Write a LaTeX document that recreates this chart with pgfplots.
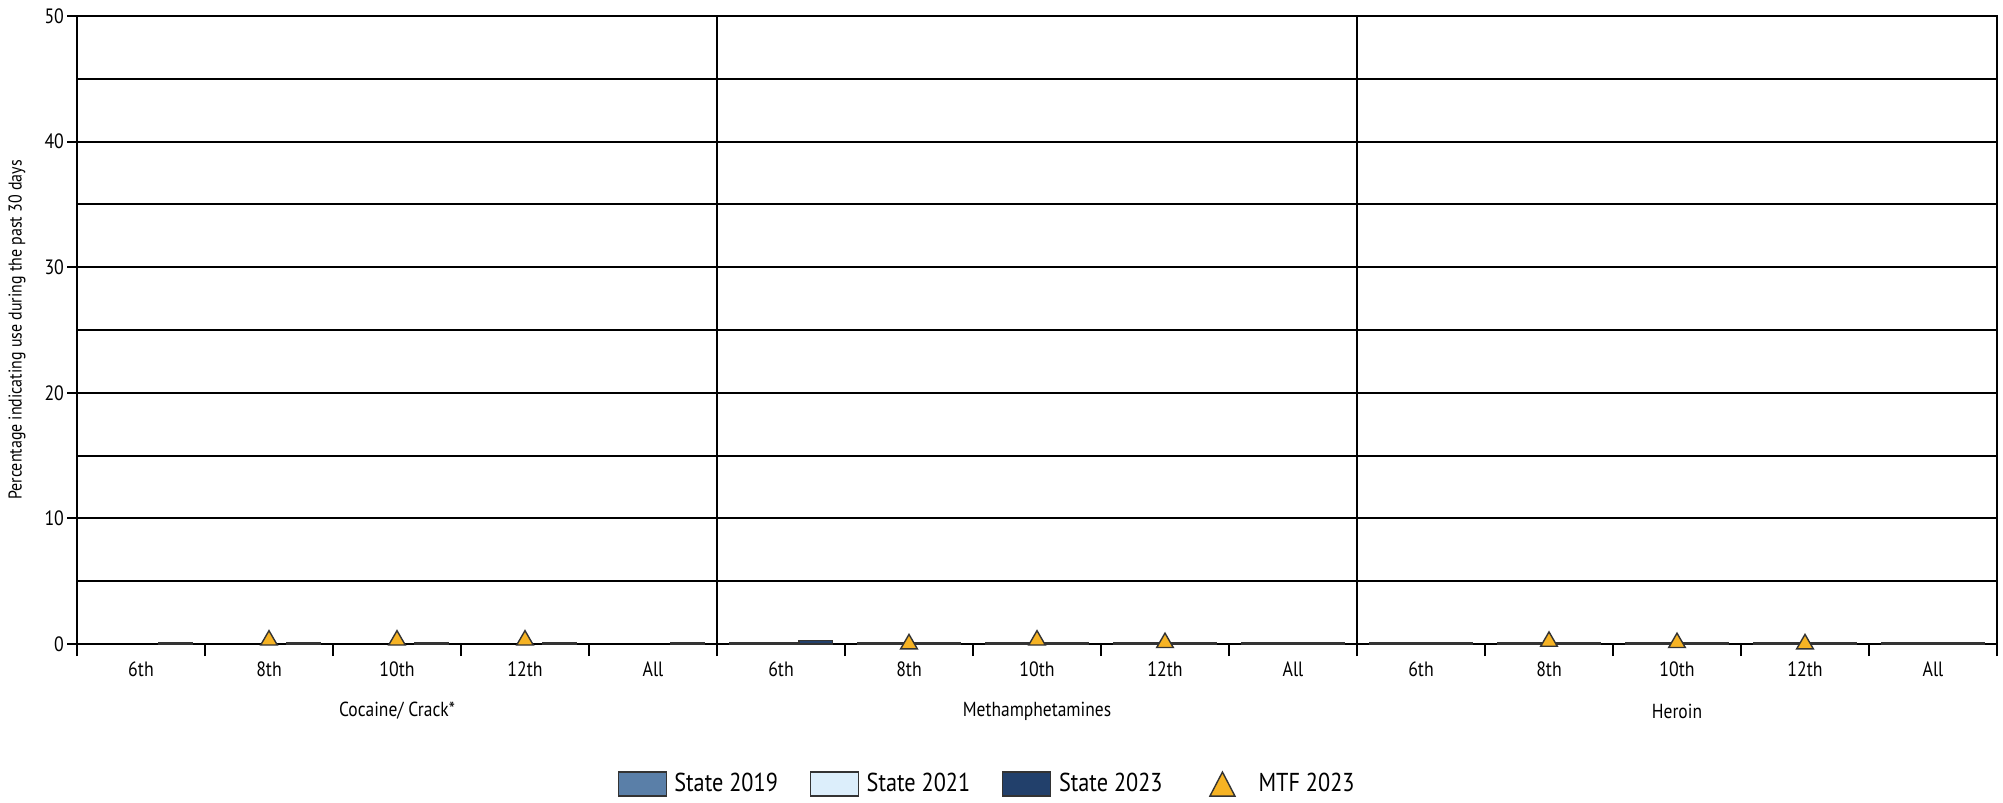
\documentclass[border=0pt]{standalone}
\usepackage{fontspec}
\setmainfont{PT Sans}[FakeStretch=0.86]
\usepackage{pgfplots}
\pgfplotsset{compat=1.18}
\definecolor{c19}{HTML}{5A7FA8}
\definecolor{c21}{HTML}{DCEEFB}
\definecolor{c23}{HTML}{22406B}
\definecolor{mtf}{HTML}{F6B324}
\definecolor{edge}{HTML}{333333}
\begin{document}
\begin{tikzpicture}
\useasboundingbox (-38.5bp,-79.5bp) rectangle (963bp,322bp);
\begin{axis}[
  at={(0,0)}, anchor=south west,
  scale only axis, width=960bp, height=314bp,
  xmin=0, xmax=15, ymin=0, ymax=50,
  axis line style={black, line width=1bp},
  tick pos=left,
  ytick={0,10,...,50}, minor ytick={5,15,...,45},
  ymajorgrids, yminorgrids,
  major grid style={black, line width=1bp},
  minor grid style={black, line width=1bp},
  tick align=outside, major tick length=5bp, minor tick length=0pt,
  tick style={black, line width=1bp},
  xtick={0.5,1.5,...,14.5},
  xticklabels={6th,8th,10th,12th,All,6th,8th,10th,12th,All,6th,8th,10th,12th,All},
  x tick style={draw=none},
  extra x ticks={0,1,...,15},
  extra x tick labels={},
  extra x tick style={major tick length=6bp, x tick style={draw=black, line width=1bp}, grid=none},
  ticklabel style={font=\fontsize{10.4}{12}\selectfont},
  xticklabel style={yshift=-0.5bp},
  yticklabel style={xshift=2bp},
  /pgf/number format/assume math mode=true,
  ylabel={Percentage indicating use during the past 30 days},
  ylabel style={at={(axis description cs:-0.03125,0.5)}, anchor=center, font=\fontsize{9.3}{10}\selectfont},
  legend style={at={(0.4745,-0.223)}, anchor=center, draw=none, legend columns=4,
    font=\fontsize{13}{15}\selectfont,
    /tikz/every odd column/.style={column sep=1.8bp},
    /tikz/every even column/.style={column sep=14bp}},
  clip=false,
]
% State 2019
\addplot[ybar, bar width=0.26, bar shift=-0.27, fill=c19, draw=edge, line width=0.6bp, forget plot]
 coordinates {(5.5,0.1) (6.5,0.1) (7.5,0.1) (8.5,0.1) (9.5,0.1)
              (10.5,0.1) (11.5,0.1) (12.5,0.1) (13.5,0.1) (14.5,0.1)};
% State 2021
\addplot[ybar, bar width=0.26, bar shift=0, fill=c21, draw=edge, line width=0.6bp, forget plot]
 coordinates {(5.5,0.1) (6.5,0.1) (7.5,0.1) (8.5,0.1) (9.5,0.1)
              (10.5,0.1) (11.5,0.1) (12.5,0.1) (13.5,0.1) (14.5,0.1)};
% State 2023
\addplot[ybar, bar width=0.26, bar shift=0.27, fill=c23, draw=edge, line width=0.6bp, forget plot]
 coordinates {(0.5,0.1) (1.5,0.1) (2.5,0.1) (3.5,0.1) (4.5,0.1)
              (5.5,0.3) (6.5,0.1) (7.5,0.1) (8.5,0.1) (9.5,0.1)
              (10.5,0.1) (11.5,0.1) (12.5,0.1) (13.5,0.1) (14.5,0.1)};
% MTF 2023
\addplot[only marks, mark=triangle*, mark size=4.8bp, mark options={fill=mtf, draw=edge, line width=0.7bp}, forget plot]
 coordinates {(1.5,0.3) (2.5,0.3) (3.5,0.3)
              (6.5,0.0) (7.5,0.3) (8.5,0.1)
              (11.5,0.2) (12.5,0.1) (13.5,0.0)};
\draw[black, line width=1bp] (axis cs:5,0) -- (axis cs:5,50);
\draw[black, line width=1bp] (axis cs:10,0) -- (axis cs:10,50);
\node[font=\fontsize{10.2}{12}\selectfont] at ([yshift=-33.5bp]axis cs:2.5,0) {Cocaine/ Crack*};
\node[font=\fontsize{10.2}{12}\selectfont] at ([yshift=-33.5bp]axis cs:7.5,0) {Methamphetamines};
\node[font=\fontsize{10.2}{12}\selectfont] at ([yshift=-33.5bp]axis cs:12.5,0) {Heroin};
% legend
\addlegendimage{legend image code/.code={\draw[fill=c19, draw=edge, line width=0.6bp] (0bp,-6bp) rectangle (24bp,6bp);}}
\addlegendentry{State 2019}
\addlegendimage{legend image code/.code={\draw[fill=c21, draw=edge, line width=0.6bp] (0bp,-6bp) rectangle (24bp,6bp);}}
\addlegendentry{State 2021}
\addlegendimage{legend image code/.code={\draw[fill=c23, draw=edge, line width=0.6bp] (0bp,-6bp) rectangle (24bp,6bp);}}
\addlegendentry{State 2023}
\addlegendimage{legend image code/.code={\path (0bp,0bp) (27.8bp,0bp); \draw[fill=mtf, draw=edge, line width=0.7bp] (7.5bp,-6bp) -- (20bp,-6bp) -- (13.75bp,6bp) -- cycle;}}
\addlegendentry{MTF 2023}
\end{axis}
\end{tikzpicture}
\end{document}
